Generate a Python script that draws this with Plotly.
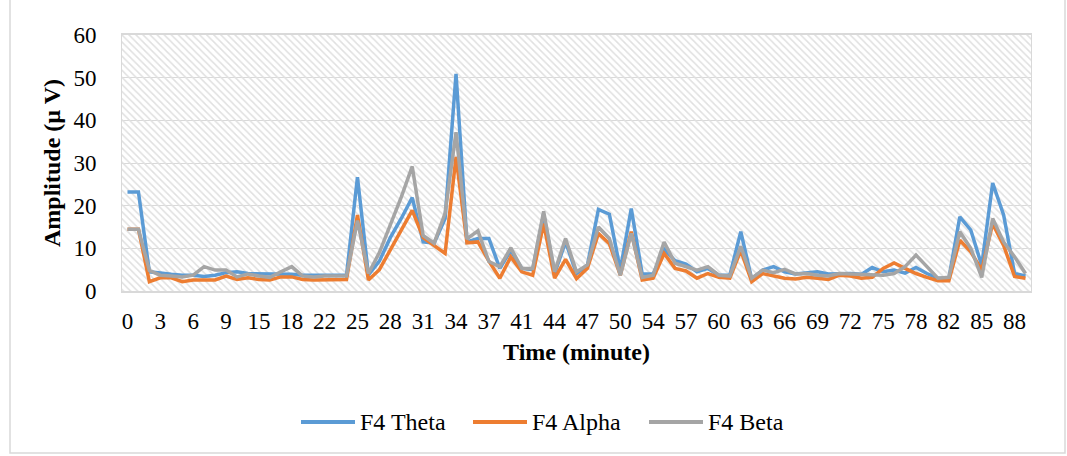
import plotly.graph_objects as go

# Recording minutes (category axis) and band amplitudes in µV
minutes = [0, 1, 2, 3, 4, 5, 6, 7, 8, 9, 11, 13, 15, 16, 17, 18, 19, 20,
           22, 23, 24, 25, 26, 27, 28, 29, 30, 31, 32, 33, 34, 35, 36, 37, 38, 39,
           41, 42, 43, 44, 45, 46, 47, 48, 49, 50, 51, 52,
           54, 55, 56, 57, 58, 59, 60, 61, 62, 63, 64, 65, 66, 67, 68, 69, 70,
           71, 72, 73, 74, 75, 76, 77, 78, 79, 80,
           82, 83, 84, 85, 86, 87, 88, 89]

f4_theta = [23.2, 23.2, 4.5, 4.1, 3.9, 3.7, 3.7, 3.4, 3.7, 4.3,
            4.5, 4.1, 4.1, 3.9, 4.1, 3.9, 3.7, 3.7, 3.9, 3.9,
            3.7, 26.7, 3.8, 7.0, 12.5, 17.0, 21.9, 11.5, 11.2, 17.0,
            50.9, 11.5, 12.3, 12.3, 5.3, 9.5, 5.3, 5.0, 18.0, 4.1,
            11.5, 4.1, 6.1, 19.1, 18.0, 5.0, 19.3, 4.0, 4.0, 9.8,
            7.1, 6.3, 4.5, 5.3, 3.7, 3.7, 13.9, 2.8, 4.9, 5.7,
            4.5, 4.0, 4.2, 4.5, 4.0, 4.1, 4.1, 3.9, 5.5, 4.5,
            4.9, 4.2, 5.5, 4.1, 3.0, 3.0, 17.4, 14.3, 6.0, 25.3,
            17.8, 4.1, 3.5]

f4_alpha = [14.5, 14.5, 2.2, 3.1, 3.1, 2.2, 2.6, 2.6, 2.6, 3.5,
            2.7, 3.1, 2.7, 2.6, 3.3, 3.3, 2.7, 2.6, 2.7, 2.7,
            2.7, 17.8, 2.6, 5.0, 9.5, 14.0, 18.9, 12.5, 10.7, 8.8,
            31.4, 11.3, 11.5, 7.0, 3.0, 8.0, 4.5, 3.7, 15.8, 3.0,
            7.4, 2.9, 5.3, 13.5, 11.1, 3.7, 13.9, 2.6, 3.0, 8.8,
            5.3, 4.7, 3.0, 4.1, 3.2, 3.0, 9.5, 2.2, 4.1, 3.5,
            3.0, 2.8, 3.2, 3.0, 2.7, 3.7, 3.5, 3.0, 3.2, 5.3,
            6.6, 5.3, 4.1, 3.2, 2.4, 2.4, 11.9, 9.2, 4.9, 15.8,
            10.7, 3.4, 3.0]

f4_beta = [14.5, 14.5, 4.8, 3.7, 3.5, 3.3, 3.7, 5.7, 4.9, 4.9,
           3.3, 4.0, 3.5, 3.2, 4.5, 5.7, 3.5, 3.3, 3.5, 3.5,
           3.5, 16.5, 4.1, 9.0, 15.5, 22.0, 29.2, 13.0, 11.2, 18.2,
           37.2, 12.2, 14.1, 6.9, 5.7, 10.1, 5.3, 5.3, 18.7, 4.5,
           12.3, 4.5, 6.1, 15.0, 12.3, 3.7, 13.5, 3.2, 3.7, 11.5,
           6.5, 5.7, 4.9, 5.7, 3.7, 3.5, 10.5, 3.0, 4.9, 4.3,
           5.1, 4.0, 4.1, 3.7, 3.5, 4.1, 4.0, 3.7, 3.7, 3.7,
           4.1, 5.7, 8.4, 5.7, 3.0, 3.2, 13.9, 10.0, 3.2, 17.0,
           11.5, 8.0, 4.1]

series_names = ["F4 Theta", "F4 Alpha", "F4 Beta"]
series_colors = ["#5B9BD5", "#ED7D31", "#A5A5A5"]

y_max = 60

cats = [str(m) for m in minutes]
tick_cats = cats[::3]
mid = len(cats) // 2

FONT = "Liberation Serif, Times New Roman, serif"
GRID = "#d9d9d9"
TICK_FS = 23
TITLE_FS = 24
LEG_FS = 24

W, H = 1067, 456
ML, MR, MT, MB = 122, 36, 35, 165
pw, ph = W - ML - MR, H - MT - MB


def px_x(p):
    return (p - ML) / pw


def px_y(p):
    return (H - MB - p) / ph


fig = go.Figure()

# Hatched plot-area fill: one bar spanning every category, drawn beneath the lines
fig.add_trace(go.Bar(
    x=[cats[mid]], y=[y_max], width=[len(cats)],
    marker=dict(color="rgba(0,0,0,0)", line=dict(width=0),
                pattern=dict(shape="\\", fgcolor="#e0e0e0",
                             bgcolor="rgba(0,0,0,0)", size=5, solidity=0.3,
                             fillmode="replace")),
    showlegend=False, hoverinfo="skip",
))

series_values = [f4_theta, f4_alpha, f4_beta]
for name, vals, col in zip(series_names, series_values, series_colors):
    fig.add_trace(go.Scatter(
        x=cats, y=vals, name=name, mode="lines",
        line=dict(color=col, width=3.5, shape="linear"),
        showlegend=False,
    ))

# Legend row under the axis title: a line swatch followed by the series name
legend_line_x = [301, 473, 649]
swatch_len = 54
legend_y = 422
for name, col, x0 in zip(series_names, series_colors, legend_line_x):
    fig.add_shape(type="line", xref="paper", yref="paper",
                  x0=px_x(x0), x1=px_x(x0 + swatch_len),
                  y0=px_y(legend_y), y1=px_y(legend_y),
                  line=dict(color=col, width=4))
    fig.add_annotation(xref="paper", yref="paper",
                       x=px_x(x0 + swatch_len + 3), y=px_y(legend_y),
                       xanchor="left", yanchor="middle", showarrow=False,
                       text=name, font=dict(size=LEG_FS, family=FONT, color="black"))

fig.update_layout(
    width=W, height=H,
    margin=dict(l=ML, r=MR, t=MT, b=MB),
    paper_bgcolor="white", plot_bgcolor="white",
    font=dict(family=FONT, size=TICK_FS, color="black"),
    xaxis=dict(
        type="category", categoryorder="array", categoryarray=cats,
        range=[-0.5, len(cats) - 0.5],
        tickmode="array", tickvals=tick_cats, ticktext=tick_cats,
        showgrid=False, ticks="", ticklabelstandoff=9,
        showline=True, linecolor=GRID, linewidth=1.5, mirror=True,
        title=dict(text="<b>Time (minute)</b>", font=dict(size=TITLE_FS), standoff=10),
        zeroline=False,
    ),
    yaxis=dict(
        range=[0, y_max], dtick=10, tick0=0,
        showgrid=True, gridcolor=GRID, gridwidth=1,
        ticks="", ticklabelstandoff=20,
        showline=True, linecolor=GRID, linewidth=1, mirror=True,
        zeroline=False,
        title=dict(text="<b>Amplitude (µ V)</b>", font=dict(size=TITLE_FS), standoff=6),
    ),
    barmode="overlay", bargap=0,
    showlegend=False,
)

# Outer chart-area border
fig.add_shape(type="rect", xref="paper", yref="paper",
              x0=px_x(10), x1=px_x(1065), y0=px_y(453), y1=px_y(-5),
              line=dict(color=GRID, width=1.5), fillcolor="rgba(0,0,0,0)",
              layer="below")

fig.write_html("out.html")
